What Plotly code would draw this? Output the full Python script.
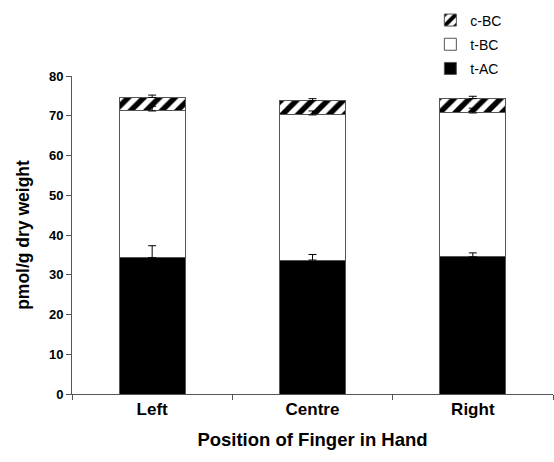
import plotly.graph_objects as go

positions = ["Left", "Centre", "Right"]
t_ac = [34.3, 33.7, 34.5]
t_ac_err = [3.0, 1.4, 1.0]
t_bc = [36.9, 36.5, 36.2]
t_bc_err = [1.2, 1.0, 1.2]
c_bc = [3.4, 3.6, 3.6]
c_bc_err = [0.6, 0.5, 0.6]

outline = dict(color="#555555", width=1)
font = dict(family="Arial, Liberation Sans, sans-serif", color="black")

fig = go.Figure()
fig.add_trace(go.Bar(name="t-AC", x=positions, y=t_ac, legendgroup="a", legendrank=3,
                     marker=dict(color="black", line=outline)))
fig.add_trace(go.Bar(name="t-BC", x=positions, y=t_bc, legendgroup="b", legendrank=2,
                     marker=dict(color="white", line=outline)))
fig.add_trace(go.Bar(name="c-BC", x=positions, y=c_bc, legendgroup="c", legendrank=1,
                     marker=dict(color="white", line=outline,
                                 pattern=dict(shape="/", fgcolor="black", bgcolor="white",
                                              fgopacity=1, size=11, solidity=0.5))))

# Upper error bars at the top of each stacked segment, drawn above all bars
running = [0.0] * len(positions)
for seg, e in ((t_ac, t_ac_err), (t_bc, t_bc_err), (c_bc, c_bc_err)):
    running = [r + v for r, v in zip(running, seg)]
    fig.add_trace(go.Scatter(
        x=positions, y=list(running), mode="markers",
        marker=dict(size=1, opacity=0), showlegend=False, hoverinfo="skip",
        error_y=dict(type="data", array=e, arrayminus=[0] * len(e), symmetric=False,
                     color="black", thickness=1, width=4)))

fig.update_layout(
    width=554, height=462,
    margin=dict(l=72, r=1, t=76, b=68),
    barmode="stack", bargap=0.59,
    plot_bgcolor="white", paper_bgcolor="white",
    font=dict(size=13, **font),
    showlegend=True,
    legend=dict(x=0.745, y=1.225, xanchor="left", yanchor="top",
                font=dict(size=14, **font), traceorder="grouped",
                itemwidth=30, tracegroupgap=3, bgcolor="rgba(0,0,0,0)"),
    xaxis=dict(showline=True, linecolor="#555555", linewidth=1,
               ticks="outside", ticklen=5, tickcolor="#555555", tickson="boundaries",
               tickfont=dict(size=17, weight="bold", **font),
               title=dict(text="Position of Finger in Hand", standoff=14,
                          font=dict(size=18.5, weight="bold", **font))),
    yaxis=dict(range=[0, 80], dtick=10, showline=True, linecolor="#555555", linewidth=1,
               ticks="outside", ticklen=5, tickcolor="#555555", showgrid=False,
               zeroline=False,
               tickfont=dict(size=13, weight="bold", **font),
               title=dict(text="pmol/g dry weight", standoff=14,
                          font=dict(size=17.5, weight="bold", **font))),
)

fig.write_html("out.html")
